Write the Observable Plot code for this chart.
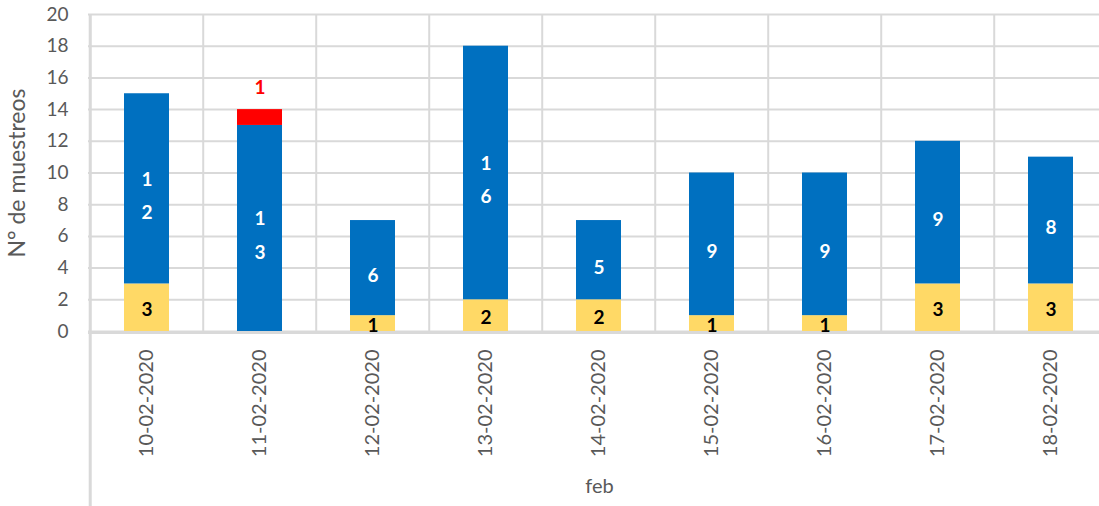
<!DOCTYPE html>
<html>
<head>
<meta charset="utf-8">
<script src="https://cdn.jsdelivr.net/npm/d3@7"></script>
<script src="https://cdn.jsdelivr.net/npm/@observablehq/plot@0.6"></script>
<style>
  html, body { margin: 0; padding: 0; background: #fff; overflow: hidden; }
  #chart { width: 1099px; height: 506px; }
</style>
</head>
<body>
<div id="chart"></div>
<script>
// ---- data ----
const fechas = ["10-02-2020", "11-02-2020", "12-02-2020", "13-02-2020", "14-02-2020", "15-02-2020", "16-02-2020", "17-02-2020", "18-02-2020"];
const serieAmarilla = [3, 0, 1, 2, 2, 1, 1, 3, 3];
const serieAzul = [12, 13, 6, 16, 5, 9, 9, 9, 8];
const serieRoja = [0, 1, 0, 0, 0, 0, 0, 0, 0];
const nombresSeries = ["Serie 1", "Serie 2", "Serie 3"];
const coloresSeries = ["#FFD966", "#0070C0", "#FF0000"];
const yTicks = [0, 2, 4, 6, 8, 10, 12, 14, 16, 18, 20];
const tituloY = "N° de muestreos";
const tituloX = "feb";

// long table built from the arrays
const valores = [serieAmarilla, serieAzul, serieRoja];
const datos = [];
fechas.forEach((f, i) => {
  nombresSeries.forEach((s, j) => datos.push({fecha: f, serie: s, valor: valores[j][i]}));
});

const W = 1099, H = 506;
const mL = 88, mR = -11, mT = 14, mB = 175;
const step = (W - mL - mR) / fechas.length;
const grid = "#d9d9d9";
const txt = "#595959";
const font = "Lato, 'Open Sans', sans-serif";

// wrapped label (narrow bar: one digit per line)
const lbl = v => String(v).split("").join("\n");

const chart = Plot.plot({
  width: W,
  height: H,
  marginLeft: mL,
  marginRight: mR,
  marginTop: mT,
  marginBottom: mB,
  style: {fontFamily: font, background: "#fff", overflow: "hidden"},
  x: {domain: fechas, paddingInner: 0.6, paddingOuter: 0.3, axis: null},
  y: {domain: [0, 20], axis: null},
  color: {domain: nombresSeries, range: coloresSeries},
  marks: [
    Plot.gridY({ticks: yTicks, stroke: grid, strokeOpacity: 1, strokeWidth: 2}),
    Plot.ruleX(fechas, {x: d => d, dx: -step / 2, stroke: grid, strokeWidth: 2}),
    Plot.ruleX(fechas.slice(0, 1), {x: d => d, dx: -step / 2, stroke: grid, strokeWidth: 3, insetBottom: -mB}),
    Plot.barY(datos, {x: "fecha", y: "valor", fill: "serie", z: "serie", order: null}),
    Plot.ruleY([0], {stroke: grid, strokeWidth: 3, dy: 1}),
    // labels
    Plot.text(datos, Plot.stackY({x: "fecha", y: "valor", z: "serie", order: null,
      text: d => d.serie === nombresSeries[0] && d.valor > 0 ? lbl(d.valor) : null,
      fill: "#000", fontWeight: "bold", fontSize: 19, dy: 2})),
    Plot.text(datos, Plot.stackY({x: "fecha", y: "valor", z: "serie", order: null,
      text: d => d.serie === nombresSeries[1] && d.valor > 0 ? lbl(d.valor) : null,
      fill: "#fff", fontWeight: "bold", fontSize: 19, lineHeight: 1.75, dy: 3})),
    Plot.text(datos, Plot.stackY2({x: "fecha", y: "valor", z: "serie", order: null,
      text: d => d.serie === nombresSeries[2] && d.valor > 0 ? lbl(d.valor) : null,
      fill: "#FF0000", fontWeight: "bold", fontSize: 19, dy: -22})),
    // axes
    Plot.axisY({ticks: yTicks, tickSize: 0, tickPadding: 20, fontSize: 19, color: txt, label: null}),
    Plot.axisX({tickRotate: -90, tickSize: 0, tickPadding: 18, fontSize: 20, color: txt, label: null}),
    Plot.text([tituloY], {text: d => d, frameAnchor: "left", textAnchor: "middle", rotate: -90, dx: -71, fontSize: 23, fill: txt}),
    Plot.text([tituloX], {text: d => d, frameAnchor: "bottom", dy: 161, fontSize: 20, fill: txt})
  ]
});
document.getElementById("chart").appendChild(chart);
</script>
</body>
</html>
